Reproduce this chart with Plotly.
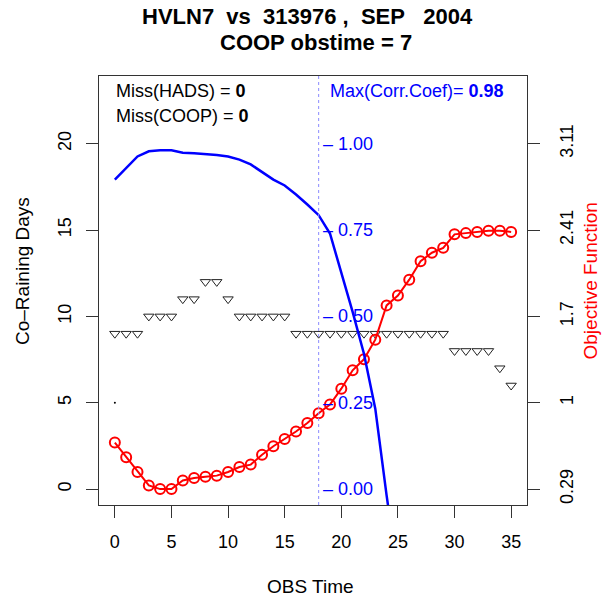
import plotly.graph_objects as go

# ---- data ----
obs_time = list(range(36))
co_raining_days = [9, 9, 9, 10, 10, 10, 11, 11, 12, 12, 11, 10, 10, 10, 10, 10,
                   9, 9, 9, 9, 9, 9, 9, 9, 9, 9, 9, 9, 9, 9,
                   8, 8, 8, 8, 7, 6]
objective_fn = [0.67, 0.55, 0.43, 0.32, 0.29, 0.29, 0.36, 0.38, 0.39, 0.40,
                0.43, 0.47, 0.49, 0.57, 0.64, 0.70, 0.76, 0.83, 0.91, 0.98,
                1.11, 1.26, 1.35, 1.51, 1.79, 1.87, 2.00, 2.15, 2.22, 2.26,
                2.37, 2.38, 2.39, 2.40, 2.40, 2.39]
corr_time = list(range(26))
corr_coef = [0.896, 0.930, 0.963, 0.978, 0.981, 0.981, 0.974, 0.972, 0.970, 0.967,
             0.963, 0.954, 0.940, 0.917, 0.896, 0.879, 0.853, 0.824, 0.793, 0.740,
             0.630, 0.513, 0.392, 0.233, -0.018, -0.25]
max_corr_time = 18
left_ticks = [0, 5, 10, 15, 20]
right_tick_text = ["0.29", "1", "1.7", "2.41", "3.11"]
corr_ticks = [0.0, 0.25, 0.5, 0.75, 1.0]
x_ticks = [0, 5, 10, 15, 20, 25, 30, 35]

obj_min = 0.29
obj_scale = 0.141          # objective units per co-raining day unit
ylo, yhi = -0.92, 23.92

FONT = "Liberation Sans, Arial, Helvetica, sans-serif"
AX = "#333333"

fig = go.Figure()

fig.add_trace(go.Scatter(
    x=corr_time, y=corr_coef, yaxis="y3", mode="lines",
    line=dict(color="#0000ff", width=2.5), showlegend=False))

fig.add_trace(go.Scatter(
    x=obs_time, y=co_raining_days, mode="markers",
    marker=dict(symbol="triangle-down-open", size=9, color="#222222",
                line=dict(width=1, color="#222222")),
    showlegend=False))

fig.add_trace(go.Scatter(
    x=obs_time, y=objective_fn, yaxis="y2", mode="lines+markers",
    line=dict(color="#ff0000", width=2),
    marker=dict(symbol="circle-open", size=10, color="#ff0000",
                line=dict(width=2, color="#ff0000")),
    showlegend=False))

fig.add_trace(go.Scatter(
    x=[0], y=[5], mode="markers",
    marker=dict(size=2, color="#000000"), showlegend=False))

fig.add_shape(type="line", xref="x", yref="paper", x0=max_corr_time, x1=max_corr_time,
              y0=0, y1=1, line=dict(color="#8a8aff", width=1, dash="dot"))

annos = []
for v in corr_ticks:
    annos.append(dict(x=max_corr_time, y=v, xref="x", yref="y3", xanchor="left",
                      yanchor="middle", xshift=3, showarrow=False, borderpad=0,
                      text="\u2013 %.2f" % v, font=dict(family=FONT, size=18, color="#0000ff")))

annos += [
    dict(x=0.486, y=(505 - 16.0) / 429, xref="paper", yref="paper", xanchor="center", yanchor="middle",
         showarrow=False, borderpad=0,
         text="<b>HVLN7\u00a0\u00a0vs\u00a0\u00a0313976\u00a0,\u00a0\u00a0SEP\u00a0\u00a0\u00a02004</b>",
         font=dict(family=FONT, size=22, color="#000000")),
    dict(x=0.507, y=1.078, xref="paper", yref="paper", xanchor="center", yanchor="middle",
         showarrow=False, borderpad=0, text="<b>COOP obstime = 7</b>",
         font=dict(family=FONT, size=22, color="#000000")),
    dict(x=0, y=23.07, xref="x", yref="y", xanchor="left", yanchor="middle", borderpad=0,
         showarrow=False, text="Miss(HADS) = <b>0</b>",
         font=dict(family=FONT, size=18, color="#000000")),
    dict(x=0, y=21.6, xref="x", yref="y", xanchor="left", yanchor="middle", borderpad=0,
         showarrow=False, text="Miss(COOP) = <b>0</b>",
         font=dict(family=FONT, size=18, color="#000000")),
    dict(x=18.9, y=23.07, xref="x", yref="y", xanchor="left", yanchor="middle", borderpad=0,
         showarrow=False, text="Max(Corr.Coef)= <b>0.98</b>",
         font=dict(family=FONT, size=18, color="#0000ff")),
    dict(x=(310.8 - 99) / 428, y=(505 - 586.7) / 429, xref="paper", yref="paper",
         xanchor="center", yanchor="middle", showarrow=False, text="OBS Time",
         font=dict(family=FONT, size=19, color="#000000")),
    dict(x=(22 - 99) / 428, y=(505 - 271) / 429, xref="paper", yref="paper",
         xanchor="center", yanchor="middle", showarrow=False, text="Co\u2013Raining Days",
         textangle=-90, font=dict(family=FONT, size=19, color="#000000")),
    dict(x=(590 - 99) / 428, y=(505 - 281.5) / 429, xref="paper", yref="paper",
         xanchor="center", yanchor="middle", showarrow=False, text="Objective Function",
         textangle=-90, font=dict(family=FONT, size=19, color="#ff0000")),
]

fig.update_layout(
    width=604, height=596,
    margin=dict(l=99, r=77, t=76, b=91, pad=0),
    plot_bgcolor="white", paper_bgcolor="white",
    font=dict(family=FONT, size=18, color="#000000"),
    annotations=annos,
    xaxis=dict(range=[-1.4, 36.4], tickvals=x_ticks, ticks="outside", ticklen=12,
               tickcolor=AX, showline=True, mirror=True, linecolor=AX, linewidth=1,
               showgrid=False, zeroline=False, ticklabelstandoff=8,
               tickfont=dict(family=FONT, size=18)),
    yaxis=dict(range=[ylo, yhi], tickvals=left_ticks, ticks="outside", ticklen=12,
               tickcolor=AX, showline=True, mirror=True, linecolor=AX, linewidth=1,
               showgrid=False, zeroline=False, tickangle=-90, ticklabelstandoff=8,
               tickfont=dict(family=FONT, size=18)),
    yaxis2=dict(overlaying="y", side="right",
                range=[obj_min + obj_scale * ylo, obj_min + obj_scale * yhi],
                tickvals=[obj_min + obj_scale * t for t in left_ticks], ticktext=right_tick_text,
                ticks="outside", ticklen=12, tickcolor=AX, showline=False,
                showgrid=False, zeroline=False, tickangle=-90, ticklabelstandoff=11,
                tickfont=dict(family=FONT, size=18)),
    yaxis3=dict(overlaying="y", range=[ylo / 20, yhi / 20], visible=False),
)

# remove the browser's default 8px body margin so the figure sits at the window origin
fig.write_html("out.html", config={"displayModeBar": False},
               post_script="document.body.style.margin='0';document.body.style.padding='0';")
